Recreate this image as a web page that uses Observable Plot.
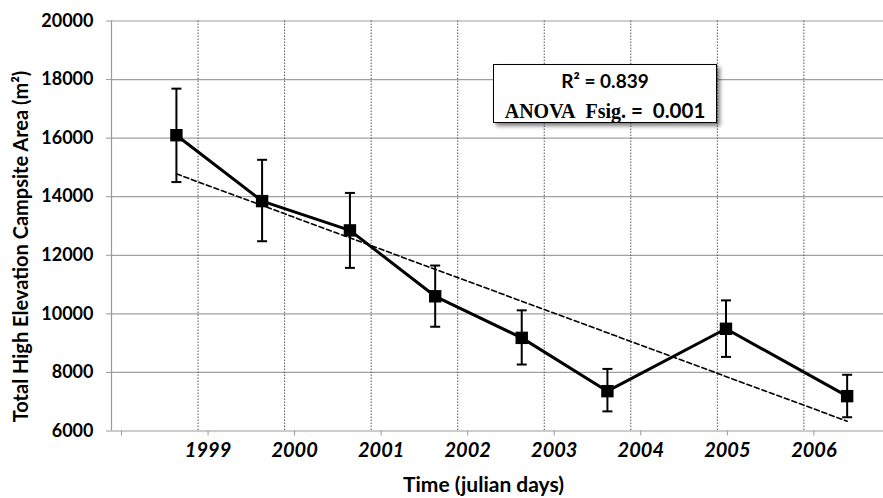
<!DOCTYPE html>
<html><head><meta charset="utf-8">
<script src="https://cdn.jsdelivr.net/npm/d3@7"></script>
<script src="https://cdn.jsdelivr.net/npm/@observablehq/plot@0.6"></script>
<style>
html,body{margin:0;padding:0;background:#fff;}
#chart{position:relative;width:883px;height:498px;overflow:hidden;}
#box{position:absolute;left:493px;top:64px;width:222px;height:57px;border:1.5px solid #000;background:#fff;box-shadow:3px 3px 4px rgba(0,0,0,0.5);text-align:center;font-weight:bold;color:#000;}
#box .l1{position:absolute;left:0;right:0;top:6px;font-family:Lato,sans-serif;font-size:19px;line-height:20px;}
#box .l2{position:absolute;left:0;right:0;top:34px;line-height:22px;white-space:nowrap;}
#box .serif{font-family:"Liberation Serif",serif;font-size:20px;}
#box .sans{font-family:Lato,sans-serif;font-size:20.5px;}
</style></head><body><div id="chart"><div id="box"><div class="l1">R² = 0.839</div><div class="l2"><span class="serif">ANOVA&nbsp;&nbsp;Fsig.</span><span class="sans"> = &nbsp;0.001</span></div></div></div>
<script>
// Observation times (fractional years) and campsite area (m²)
const years = [1998.75, 1999.74, 2000.755, 2001.74, 2002.74, 2003.73, 2005.10, 2006.50];
const area = [16100, 13850, 12850, 10600, 9180, 7360, 9490, 7190];
const errHigh = [17690, 15260, 14130, 11650, 10120, 8120, 10460, 7920];
const errLow = [14500, 12480, 11570, 9560, 8270, 6670, 8530, 6470];
// Linear trend line endpoints
const trendYears = [1998.75, 2006.50];
const trendArea = [14780, 6335];
// Axis ticks
const yTicks = [6000, 8000, 10000, 12000, 14000, 16000, 18000, 20000];
const yearLabels = [1999, 2000, 2001, 2002, 2003, 2004, 2005, 2006];
const axisYears = [1998, ...yearLabels];

const data = years.map((x, i) => ({x, y: area[i], lo: errLow[i], hi: errHigh[i]}));
const trend = trendYears.map((x, i) => ({x, y: trendArea[i]}));

const cap = {draw(ctx, size) { const r = Math.sqrt(size / Math.PI); ctx.moveTo(-r, 0); ctx.lineTo(r, 0); }};

const chart = Plot.plot({
  width: 883, height: 498,
  marginLeft: 111, marginRight: 0, marginTop: 20.5, marginBottom: 67.5,
  x: {domain: [1998, 2006.92]},
  y: {domain: [6000, 20000]},
  style: {fontFamily: "Lato, sans-serif", fontWeight: "bold", color: "#000", background: "#fff", overflow: "visible"},
  marks: [
    Plot.gridY(yTicks.slice(1), {stroke: "#a0a0a0", strokeOpacity: 1, strokeWidth: 1.2}),
    Plot.gridX(yearLabels, {stroke: "#555", strokeOpacity: 1, strokeDasharray: "1.5,1.5"}),
    Plot.ruleY([6000], {stroke: "#999", strokeWidth: 1.2}),
    Plot.ruleX([1998], {stroke: "#999", strokeWidth: 1.2}),
    Plot.axisY(yTicks, {tickSize: 5, stroke: "#999", fill: "#000", fontSize: 18, tickPadding: 13, tickFormat: d => String(d), label: null}),
    Plot.axisX(axisYears, {tickSize: 5, stroke: "#999", fill: "#000", fontSize: 20, fontStyle: "italic", tickPadding: 7, dx: 10, tickFormat: d => yearLabels.includes(d) ? String(d) : "", label: null}),
    Plot.line(trend, {x: "x", y: "y", stroke: "#000", strokeWidth: 1.6, strokeDasharray: "5,3"}),
    Plot.ruleX(data, {x: "x", y1: "lo", y2: "hi", stroke: "#000", strokeWidth: 2}),
    Plot.dot(data, {x: "x", y: "hi", symbol: cap, r: 5, stroke: "#000", strokeWidth: 2, fill: "none"}),
    Plot.dot(data, {x: "x", y: "lo", symbol: cap, r: 5, stroke: "#000", strokeWidth: 2, fill: "none"}),
    Plot.line(data, {x: "x", y: "y", stroke: "#000", strokeWidth: 3}),
    Plot.dot(data, {x: "x", y: "y", symbol: "square", r: 7, fill: "#000", stroke: "none"}),
    Plot.text(["Total High Elevation Campsite Area (m²)"], {text: d => d, frameAnchor: "left", textAnchor: "middle", lineAnchor: "middle", rotate: -90, dx: -90, dy: 20.5, fontSize: 20}),
    Plot.text(["Time (julian days)"], {text: d => d, frameAnchor: "bottom", textAnchor: "middle", lineAnchor: "middle", dx: -14, dy: 54.5, fontSize: 21})
  ]
});
document.getElementById("chart").prepend(chart);
</script>
</body></html>
